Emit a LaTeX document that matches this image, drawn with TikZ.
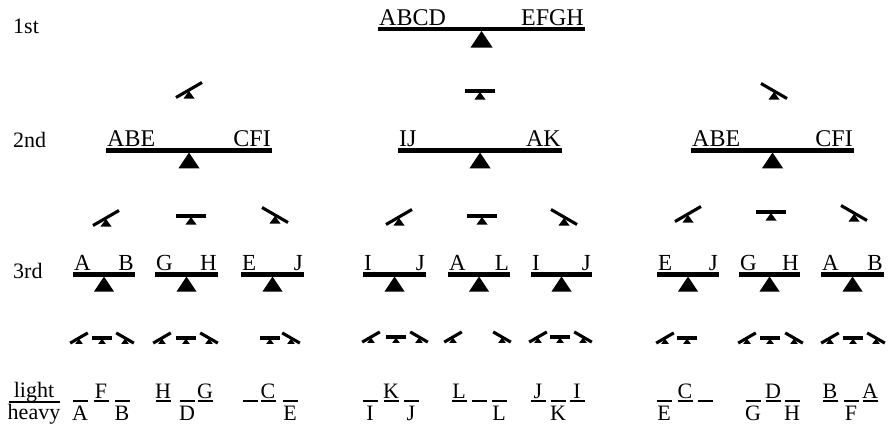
\documentclass[tikz,border=0pt]{standalone}
\usepackage{fontspec}
\setmainfont{Liberation Serif}
\newcommand\Bal[8]{%
  \draw[beam] (#2-#4,#3) coordinate (#1l) -- (#2+#4,#3) coordinate (#1r);
  \fill[fulcrum] (#2,#3+2) -- (#2-#8,{#3+2+1.5*#8}) -- (#2+#8,{#3+2+1.5*#8}) -- cycle;
  \node[#7,anchor=base west] (#1a) at (#2-#4+1,#3-4) {#5};
  \node[#7,anchor=base east] (#1b) at (#2+#4-1,#3-4) {#6};
}
\newcommand\Sw[4]{%
  \begin{scope}[shift={(#1,#2)},scale=#4]
    \draw[iconbeam] ({-15*cos(30*#3)},{-15*sin(30*#3)}) -- ({15*cos(30*#3)},{15*sin(30*#3)});
    \fill[fulcrum] (0,1) -- (-5.5,8.5) -- (5.5,8.5) -- cycle;
  \end{scope}}
\newcommand\Slot[4]{%
  \draw[slot] (#2-7.5,401) -- (#2+7.5,401);
  \node[leaflab,anchor=base] (#1u) at (#2,398) {#3};
  \node[leaflab,anchor=base] (#1d) at (#2,420) {#4};
}
\begin{document}
\begin{tikzpicture}[x=1pt,y=-1pt,
  beam/.style={line width=4.3pt},
  fulcrum/.style={fill=black},
  iconbeam/.style={line width=3.1pt},
  slot/.style={line width=2pt},
  toplab/.style={inner sep=0pt,font=\fontsize{24}{26}\selectfont},
  midlab/.style={inner sep=0pt,font=\fontsize{23}{25}\selectfont},
  leaflab/.style={inner sep=0pt,font=\fontsize{22}{24}\selectfont},
  rowlab/.style={inner sep=0pt,anchor=base west,font=\fontsize{22}{24}\selectfont},
]
\useasboundingbox (0,0) rectangle (890,429);

% row labels
\node[rowlab] (r1) at (13,33) {1st};
\node[rowlab] (r2) at (13,147) {2nd};
\node[rowlab] (r3) at (13,278) {3rd};

% level 1
\Bal{L1}{481.5}{29}{103.5}{ABCD}{EFGH}{toplab}{11}

% level 1-2 icons
\Sw{189}{90}{-1}{1}
\Sw{480}{91}{0}{1}
\Sw{774}{91}{1}{1}

% level 2
\Bal{L2a}{189}{150.5}{83}{ABE}{CFI}{toplab}{10.5}
\Bal{L2b}{480}{150.5}{82}{IJ}{AK}{toplab}{10.5}
\Bal{L2c}{772.5}{150.5}{81.5}{ABE}{CFI}{toplab}{10.5}

% level 2-3 icons
\Sw{106}{218}{-1}{1}
\Sw{191}{216}{0}{1}
\Sw{275}{215}{1}{1}
\Sw{399}{217}{-1}{1}
\Sw{482}{216}{0}{1}
\Sw{564}{217}{1}{1}
\Sw{688}{214}{-1}{1}
\Sw{771}{212}{0}{1}
\Sw{854}{213}{1}{1}

% level 3
\Bal{L3a}{104}{274.5}{31}{A}{B}{midlab}{10}
\Bal{L3b}{186.5}{274.5}{31.5}{G}{H}{midlab}{10}
\Bal{L3c}{272.5}{274.5}{31.5}{E}{J}{midlab}{10}
\Bal{L3d}{394.5}{274.5}{31.5}{I}{J}{midlab}{10}
\Bal{L3e}{479}{274.5}{31}{A}{L}{midlab}{10}
\Bal{L3f}{561.5}{274.5}{30.5}{I}{J}{midlab}{10}
\Bal{L3g}{688}{274.5}{31}{E}{J}{midlab}{10}
\Bal{L3h}{769.5}{274.5}{30.5}{G}{H}{midlab}{10}
\Bal{L3i}{852.5}{274.5}{31.5}{A}{B}{midlab}{10}

% level 3-4 icons
\Sw{79}{338}{-1}{0.68}  \Sw{102}{338}{0}{0.68}  \Sw{125}{338}{1}{0.68}
\Sw{162}{338}{-1}{0.68} \Sw{186}{338}{0}{0.68}  \Sw{209}{338}{1}{0.68}
                        \Sw{270}{338}{0}{0.68}  \Sw{291}{338}{1}{0.68}
\Sw{371}{337}{-1}{0.68} \Sw{396}{337}{0}{0.68}  \Sw{419}{337}{1}{0.68}
\Sw{453}{337}{-1}{0.68}                         \Sw{502}{337}{1}{0.68}
\Sw{538}{337}{-1}{0.68} \Sw{560}{337}{0}{0.68}  \Sw{583}{337}{1}{0.68}
\Sw{665}{338}{-1}{0.68} \Sw{687}{338}{0}{0.68}
\Sw{747}{338}{-1}{0.68} \Sw{770}{338}{0}{0.68}  \Sw{794}{338}{1}{0.68}
\Sw{830}{338}{-1}{0.68} \Sw{853}{338}{0}{0.68}  \Sw{876}{338}{1}{0.68}

% light / heavy key
\node[leaflab,anchor=base] (lt) at (34,397) {light};
\node[leaflab,anchor=base] (hv) at (34,419) {heavy};
\draw[slot] (hv.north west) ++(1,-2) coordinate (ks) -- (ks -| hv.north east);

% leaves
\Slot{a1}{80}{}{A}   \Slot{a2}{101}{F}{}  \Slot{a3}{122}{}{B}
\Slot{b1}{163}{H}{}  \Slot{b2}{187}{}{D}  \Slot{b3}{205}{G}{}
\Slot{c1}{250}{}{}   \Slot{c2}{268}{C}{}  \Slot{c3}{290}{}{E}
\Slot{d1}{370}{}{I}  \Slot{d2}{391}{K}{}  \Slot{d3}{411}{}{J}
\Slot{e1}{459}{L}{}  \Slot{e2}{479}{}{}   \Slot{e3}{499}{}{L}
\Slot{f1}{538}{J}{}  \Slot{f2}{558}{}{K}  \Slot{f3}{577}{I}{}
\Slot{g1}{664}{}{E}  \Slot{g2}{685}{C}{}  \Slot{g3}{705}{}{}
\Slot{h1}{753}{}{G}  \Slot{h2}{773}{D}{}  \Slot{h3}{792}{}{H}
\Slot{i1}{830}{B}{}  \Slot{i2}{851}{}{F}  \Slot{i3}{870}{A}{}
\end{tikzpicture}
\end{document}
